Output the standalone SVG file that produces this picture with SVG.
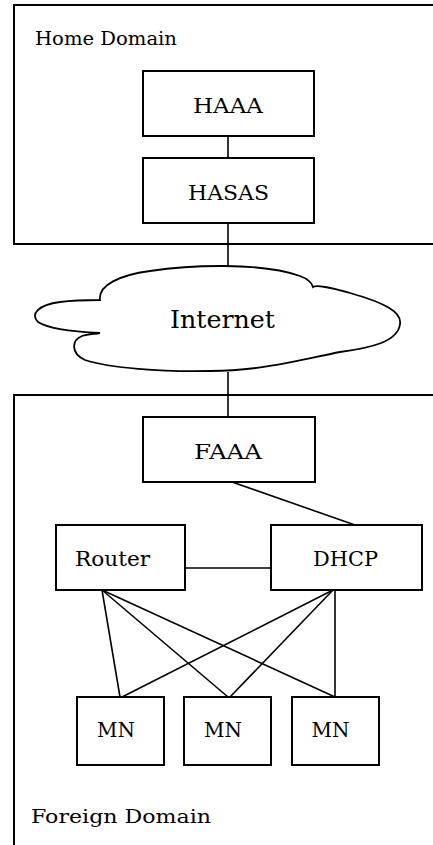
<svg xmlns="http://www.w3.org/2000/svg" width="433" height="845" viewBox="0 0 433 845">
<style>
.box{fill:#fff;stroke:#000;stroke-width:2}
.dom{fill:none;stroke:#000;stroke-width:2}
.ln{stroke:#000;stroke-width:1.6;fill:none}
text{font-family:"DejaVu Serif","Liberation Serif",serif;fill:#000}
.lbl{font-size:21px;text-anchor:middle}
.dl{font-size:19px}
</style>
<rect width="433" height="845" fill="#fff"/>
<g id="home-domain">
<rect class="dom" x="14" y="5" width="430" height="239"/>
<text class="dl" x="35" y="45" textLength="142" lengthAdjust="spacingAndGlyphs">Home Domain</text>
</g>
<g id="foreign-domain">
<rect class="dom" x="14" y="395" width="430" height="460"/>
<text class="dl" x="31" y="823" textLength="180" lengthAdjust="spacingAndGlyphs">Foreign Domain</text>
</g>
<g id="connectors">
<line class="ln" x1="228" y1="136" x2="228" y2="158"/>
<line class="ln" x1="228" y1="223" x2="228" y2="266"/>
<line class="ln" x1="228" y1="372" x2="228" y2="417"/>
<line class="ln" x1="232" y1="482" x2="355" y2="525"/>
<line class="ln" x1="185" y1="568" x2="271" y2="568"/>
<line class="ln" x1="102" y1="590" x2="120" y2="697"/>
<line class="ln" x1="102" y1="590" x2="228" y2="697"/>
<line class="ln" x1="102" y1="590" x2="335" y2="697"/>
<line class="ln" x1="333" y1="590" x2="122" y2="697"/>
<line class="ln" x1="333" y1="590" x2="230" y2="697"/>
<line class="ln" x1="335" y1="590" x2="335" y2="697"/>
</g>
<g id="internet">
<path d="M100,300 C98,285 120,275 150,271 C190,265 260,262 300,276 C308,279 312,283 313,287 C316,285 330,287 350,293 C385,303 402,312 400,324 C398,342 370,348 340,352 C300,360 260,371 210,371 C160,372 110,368 85,360 C70,353 72,340 82,336 C88,334 95,334 100,333 C80,332 50,330 38,322 C30,314 38,305 60,302 C75,300 90,300 100,300 Z" fill="#fff" stroke="#000" stroke-width="1.8"/>
<text x="222.5" y="328" style="font-size:25px;text-anchor:middle" textLength="105" lengthAdjust="spacingAndGlyphs">Internet</text>
</g>
<g id="haaa">
<rect class="box" x="143" y="71" width="171" height="65"/>
<text class="lbl" x="228" y="113" textLength="70" lengthAdjust="spacingAndGlyphs">HAAA</text>
</g>
<g id="hasas">
<rect class="box" x="143" y="158" width="171" height="65"/>
<text class="lbl" x="228.5" y="200" textLength="81" lengthAdjust="spacingAndGlyphs">HASAS</text>
</g>
<g id="faaa">
<rect class="box" x="143" y="417" width="172" height="65"/>
<text class="lbl" x="228" y="459" textLength="68" lengthAdjust="spacingAndGlyphs">FAAA</text>
</g>
<g id="router">
<rect class="box" x="56" y="525" width="129" height="65"/>
<text class="lbl" x="112.5" y="566" textLength="75" lengthAdjust="spacingAndGlyphs">Router</text>
</g>
<g id="dhcp">
<rect class="box" x="271" y="525" width="151" height="65"/>
<text class="lbl" x="345.5" y="566" textLength="65" lengthAdjust="spacingAndGlyphs">DHCP</text>
</g>
<g id="mn1">
<rect class="box" x="77" y="697" width="87" height="68"/>
<text class="lbl" x="116" y="737" textLength="38" lengthAdjust="spacingAndGlyphs">MN</text>
</g>
<g id="mn2">
<rect class="box" x="184" y="697" width="87" height="68"/>
<text class="lbl" x="223" y="737" textLength="38" lengthAdjust="spacingAndGlyphs">MN</text>
</g>
<g id="mn3">
<rect class="box" x="292" y="697" width="87" height="68"/>
<text class="lbl" x="330.5" y="737" textLength="38" lengthAdjust="spacingAndGlyphs">MN</text>
</g>
</svg>
